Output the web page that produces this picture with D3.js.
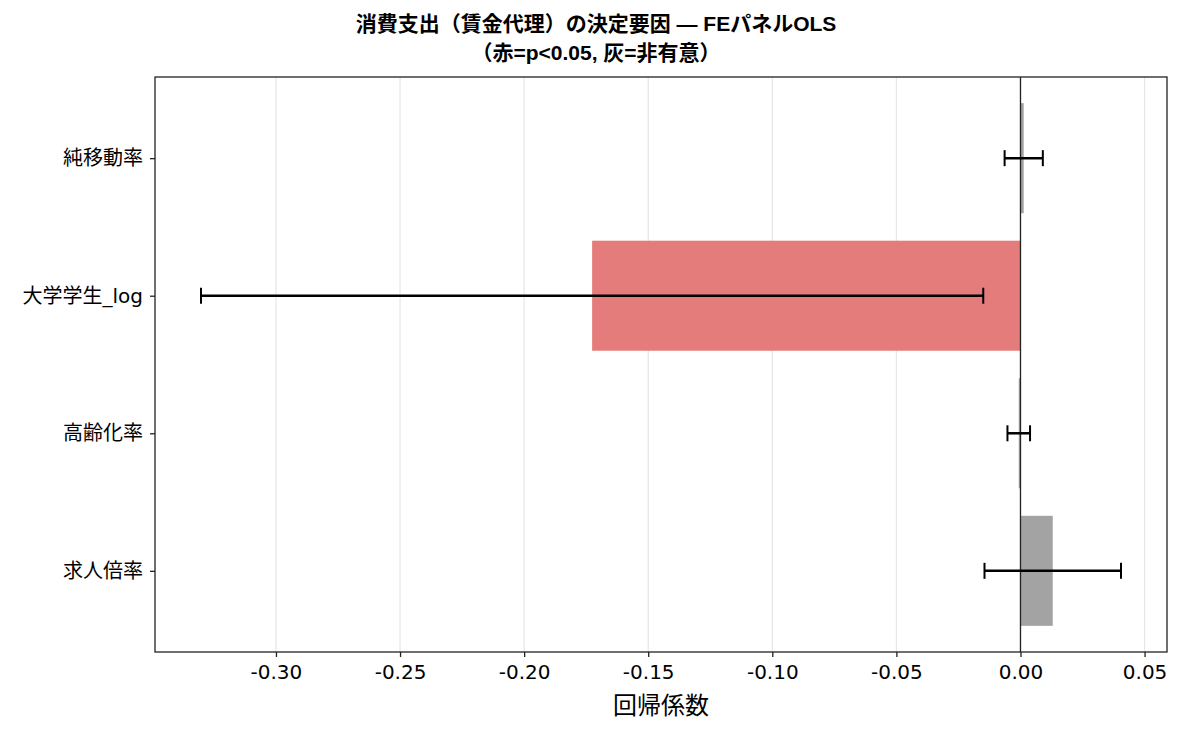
<!DOCTYPE html>
<html>
<head>
<meta charset="utf-8">
<script src="https://cdn.jsdelivr.net/npm/d3@7"></script>
<style>
  body { margin: 0; background: #fff; }
  text { font-family: "DejaVu Sans", "Noto Sans CJK JP", sans-serif; }
</style>
</head>
<body>
<div id="chart"></div>
<script>
// variables from bottom to top, as drawn by barh
var variables = ["求人倍率", "高齢化率", "大学学生_log", "純移動率"];
var coefs = [0.0130, -0.0007, -0.1726, 0.0013];
var ciHalf = [0.0275, 0.00455, 0.1576, 0.0077];
var significant = [false, false, true, false];
var xTicks = [-0.30, -0.25, -0.20, -0.15, -0.10, -0.05, 0.00, 0.05];

var width = 1183, height = 735;
var margin = { top: 77, right: 16, bottom: 83, left: 155 };
var plotW = width - margin.left - margin.right;
var plotH = height - margin.top - margin.bottom;

var svg = d3.select("#chart").append("svg")
    .attr("width", width)
    .attr("height", height);

var data = variables.map(function(v, i) {
    return { name: v, coef: coefs[i], lo: coefs[i] - ciHalf[i], hi: coefs[i] + ciHalf[i], sig: significant[i], idx: i };
});

// matplotlib style 5% margins
var xmin = d3.min(data, function(d) { return Math.min(d.lo, 0); });
var xmax = d3.max(data, function(d) { return Math.max(d.hi, 0); });
var xpad = (xmax - xmin) * 0.05;
var x = d3.scaleLinear()
    .domain([xmin - xpad, xmax + xpad])
    .range([margin.left, margin.left + plotW]);

var barH = 0.8;
var ylo = -barH / 2, yhi = variables.length - 1 + barH / 2;
var ypad = (yhi - ylo) * 0.05;
var y = d3.scaleLinear()
    .domain([ylo - ypad, yhi + ypad])
    .range([margin.top + plotH, margin.top]);

// grid
svg.append("g")
    .selectAll("line")
    .data(xTicks)
    .enter().append("line")
    .attr("x1", function(d) { return x(d); })
    .attr("x2", function(d) { return x(d); })
    .attr("y1", margin.top)
    .attr("y2", margin.top + plotH)
    .style("stroke", "#e6e6e6")
    .style("stroke-width", 1.2);

// bars
svg.append("g")
    .selectAll("rect")
    .data(data)
    .enter().append("rect")
    .attr("x", function(d) { return Math.min(x(0), x(d.coef)); })
    .attr("y", function(d) { return y(d.idx + barH / 2); })
    .attr("width", function(d) { return Math.abs(x(d.coef) - x(0)); })
    .attr("height", function(d) { return y(d.idx - barH / 2) - y(d.idx + barH / 2); })
    .style("fill", function(d) { return d.sig ? "#e47c7b" : "#a3a3a3"; });

// zero line
svg.append("line")
    .attr("x1", x(0)).attr("x2", x(0))
    .attr("y1", margin.top).attr("y2", margin.top + plotH)
    .style("stroke", "#222")
    .style("stroke-width", 1.3);

// error bars
var eb = svg.append("g").selectAll("g")
    .data(data)
    .enter().append("g")
    .style("stroke", "#000")
    .style("stroke-width", 2.5);
eb.append("line")
    .attr("x1", function(d) { return x(d.lo); })
    .attr("x2", function(d) { return x(d.hi); })
    .attr("y1", function(d) { return y(d.idx); })
    .attr("y2", function(d) { return y(d.idx); });
eb.append("line")
    .attr("x1", function(d) { return x(d.lo); })
    .attr("x2", function(d) { return x(d.lo); })
    .attr("y1", function(d) { return y(d.idx) - 8; })
    .attr("y2", function(d) { return y(d.idx) + 8; })
    .style("stroke-width", 2);
eb.append("line")
    .attr("x1", function(d) { return x(d.hi); })
    .attr("x2", function(d) { return x(d.hi); })
    .attr("y1", function(d) { return y(d.idx) - 8; })
    .attr("y2", function(d) { return y(d.idx) + 8; })
    .style("stroke-width", 2);

// frame
svg.append("rect")
    .attr("x", margin.left)
    .attr("y", margin.top)
    .attr("width", plotW)
    .attr("height", plotH)
    .style("fill", "none")
    .style("stroke", "#222")
    .style("stroke-width", 1.3);

// x axis
var xAxis = svg.append("g")
    .attr("transform", "translate(0," + (margin.top + plotH) + ")")
    .call(d3.axisBottom(x).tickValues(xTicks).tickSize(5).tickPadding(8)
        .tickFormat(function(d) { return d3.format(".2f")(d).replace("−", "-"); }));
xAxis.select(".domain").remove();
xAxis.selectAll("line").style("stroke", "#222").style("stroke-width", 1.3);
xAxis.selectAll("text").style("font-size", "20px").style("fill", "#000")
    .style("font-family", "\"DejaVu Sans\", sans-serif");

// y axis
var yAxis = svg.append("g")
    .attr("transform", "translate(" + margin.left + ",0)")
    .call(d3.axisLeft(y).tickValues(d3.range(variables.length)).tickSize(5).tickPadding(7)
        .tickFormat(function(d) { return variables[d]; }));
yAxis.select(".domain").remove();
yAxis.selectAll("line").style("stroke", "#222").style("stroke-width", 1.3);
yAxis.selectAll("text").style("font-size", "20px").style("fill", "#000");

// axis label
svg.append("text")
    .attr("x", margin.left + plotW / 2)
    .attr("y", 714)
    .style("text-anchor", "middle")
    .style("font-size", "24px")
    .text("回帰係数");

// title
var titleX = 596;
svg.append("text")
    .attr("x", titleX)
    .attr("y", 31)
    .style("text-anchor", "middle")
    .style("font-size", "21px")
    .style("font-weight", "bold")
    .style("font-family", "\"Liberation Sans\", \"Noto Sans CJK JP\", sans-serif")
    .text("消費支出（賃金代理）の決定要因 — FEパネルOLS");
svg.append("text")
    .attr("x", titleX)
    .attr("y", 60)
    .style("text-anchor", "middle")
    .style("font-size", "21px")
    .style("font-weight", "bold")
    .style("font-family", "\"Liberation Sans\", \"Noto Sans CJK JP\", sans-serif")
    .text("（赤=p<0.05, 灰=非有意）");
</script>
</body>
</html>
